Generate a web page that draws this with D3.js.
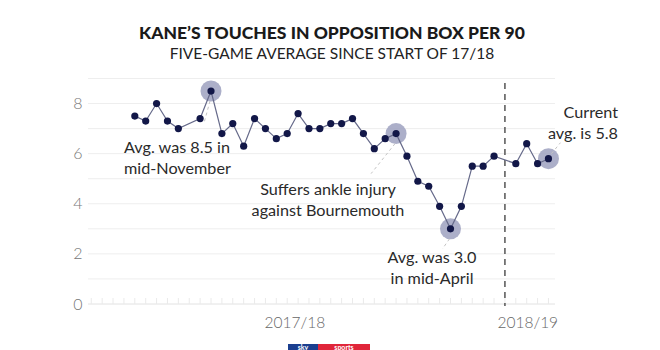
<!DOCTYPE html>
<html>
<head>
<meta charset="utf-8">
<script src="https://cdn.jsdelivr.net/npm/d3@7"></script>
<style>
  html, body { margin: 0; padding: 0; background: #fff; }
  svg { display: block; font-family: Lato, "Open Sans", sans-serif; }
</style>
</head>
<body>
<svg id="chart" width="660" height="350"></svg>
<script>
// ---- data ----
const titleText = "KANE\u2019S TOUCHES IN OPPOSITION BOX PER 90";
const subtitleText = "FIVE-GAME AVERAGE SINCE START OF 17/18";
// one slot per game; null = gap (no value)
const gameIndex = d3.range(0, 39);
const touches = [7.5, 7.3, 8.0, 7.3, 7.0, null, 7.4, 8.5, 6.8, 7.2,
                 6.3, 7.4, 7.0, 6.6, 6.8, 7.6, 7.0, 7.0, 7.2, 7.2,
                 7.4, 6.8, 6.2, 6.6, 6.8, 5.9, 4.9, 4.7, 3.9, 3.0,
                 3.9, 5.5, 5.5, 5.9, null, 5.6, 6.4, 5.6, 5.8];
const highlightIdx = [7, 24, 29, 38];
const seasonBreak = 34;
const seasonLabels = ["2017/18", "2018/19"];
const seasonLabelPos = [14.7, 36.1];
const yTicks = [0, 2, 4, 6, 8];
const gridValues = [0, 1, 2, 3, 4, 5, 6, 7, 8, 9];
const minorTicks = d3.range(-4, 39);
const annotations = [
  { idx: 7,  lines: ["Avg. was 8.5 in", "mid-November"], anchor: "start" },
  { idx: 24, lines: ["Suffers ankle injury", "against Bournemouth"], anchor: "middle" },
  { idx: 29, lines: ["Avg. was 3.0", "in mid-April"], anchor: "middle" },
  { idx: 38, lines: ["Current", "avg. is 5.8"], anchor: "end" }
];

// ---- layout ----
const svg = d3.select("#chart");
const x = d3.scaleLinear().domain([-4.3, 38.6]).range([88, 555]);
const y = d3.scaleLinear().domain([0, 9]).range([304, 78.5]);

// titles
svg.append("text").attr("x", 332).attr("y", 39).attr("text-anchor", "middle")
  .attr("font-size", 17.5).attr("font-weight", 900).attr("fill", "#1a1a1a")
  .text(titleText);
svg.append("text").attr("x", 332).attr("y", 59).attr("text-anchor", "middle")
  .attr("font-size", 15.5).attr("fill", "#222")
  .text(subtitleText);

// gridlines
svg.append("g").selectAll("line").data(gridValues).join("line")
  .attr("x1", x.range()[0]).attr("x2", x.range()[1])
  .attr("y1", d => y(d)).attr("y2", d => y(d))
  .attr("stroke", d => d === 0 ? "#e2e2e2" : "#eeeeee").attr("stroke-width", 1);

// minor ticks along baseline
svg.append("g").selectAll("line").data(minorTicks).join("line")
  .attr("x1", d => x(d)).attr("x2", d => x(d))
  .attr("y1", y(0)).attr("y2", y(0) - 6)
  .attr("stroke", "#eaeaea").attr("stroke-width", 1);

// y tick labels
svg.append("g").selectAll("text").data(yTicks).join("text")
  .attr("x", 78).attr("y", d => y(d) + 5.5).attr("text-anchor", "middle")
  .attr("font-size", 16).attr("font-weight", 300).attr("fill", "#777")
  .text(d => d);

// season labels
svg.append("g").selectAll("text").data(seasonLabels).join("text")
  .attr("x", (d, i) => x(seasonLabelPos[i])).attr("y", 328).attr("text-anchor", "middle")
  .attr("font-size", 15.5).attr("font-weight", 300).attr("fill", "#666")
  .text(d => d);

// season break dashed line
svg.append("line")
  .attr("x1", x(seasonBreak)).attr("x2", x(seasonBreak))
  .attr("y1", 83).attr("y2", y(0) + 2)
  .attr("stroke", "#555").attr("stroke-width", 1.5).attr("stroke-dasharray", "6,5");

// highlight circles
svg.append("g").selectAll("circle").data(highlightIdx).join("circle")
  .attr("cx", d => x(d)).attr("cy", d => y(touches[d]))
  .attr("r", 10.5).attr("fill", "#9da1bf").attr("opacity", 0.85);

// leader lines
const leaders = [
  { idx: 7,  dx2: -7, dy2: 32 },
  { idx: 24, dx2: -25, dy2: 40 },
  { idx: 29, dx2: -8, dy2: 20 },
  { idx: 38, dx2: 12, dy2: -16 }
];
svg.append("g").selectAll("line").data(leaders).join("line")
  .attr("x1", d => x(d.idx) + (d.dx2 > 0 ? 3 : -1)).attr("y1", d => y(touches[d.idx]) + (d.dy2 > 0 ? 10 : -5))
  .attr("x2", d => x(d.idx) + d.dx2).attr("y2", d => y(touches[d.idx]) + d.dy2)
  .attr("stroke", "#c4c4c4").attr("stroke-width", 1).attr("stroke-dasharray", "3,3");

// line
const pts = gameIndex.map(i => ({ i, v: touches[i] })).filter(d => d.v !== null);
svg.append("path").datum(pts)
  .attr("fill", "none").attr("stroke", "#666a8a").attr("stroke-width", 1.2)
  .attr("d", d3.line().x(d => x(d.i)).y(d => y(d.v)));

// dots
svg.append("g").selectAll("circle").data(pts).join("circle")
  .attr("cx", d => x(d.i)).attr("cy", d => y(d.v))
  .attr("r", 3.6).attr("fill", "#121748");

// annotations text
const annoPos = {
  7:  { x: 124, y: 153 },
  24: { x: 328, y: 195 },
  29: { x: 432, y: 263 },
  38: { x: 618, y: 118 }
};
annotations.forEach(a => {
  const p = annoPos[a.idx];
  const t = svg.append("text").attr("text-anchor", a.anchor)
    .attr("font-size", 16.2).attr("fill", "#2a2a2a");
  a.lines.forEach((l, k) => {
    t.append("tspan").attr("x", p.x).attr("y", p.y + k * 21).text(l);
  });
});

// sky sports logo (at bottom edge)
const logo = svg.append("g");
logo.append("rect").attr("x", 288).attr("y", 344).attr("width", 30).attr("height", 6).attr("fill", "#1b3f8f");
logo.append("rect").attr("x", 318).attr("y", 344).attr("width", 52).attr("height", 6).attr("fill", "#e0263a");
logo.append("text").attr("x", 303).attr("y", 350).attr("text-anchor", "middle")
  .attr("font-size", 7).attr("font-weight", 700).attr("fill", "#fff").text("sky");
logo.append("text").attr("x", 344).attr("y", 350).attr("text-anchor", "middle")
  .attr("font-size", 7).attr("font-weight", 700).attr("fill", "#fff").text("sports");
</script>
</body>
</html>
